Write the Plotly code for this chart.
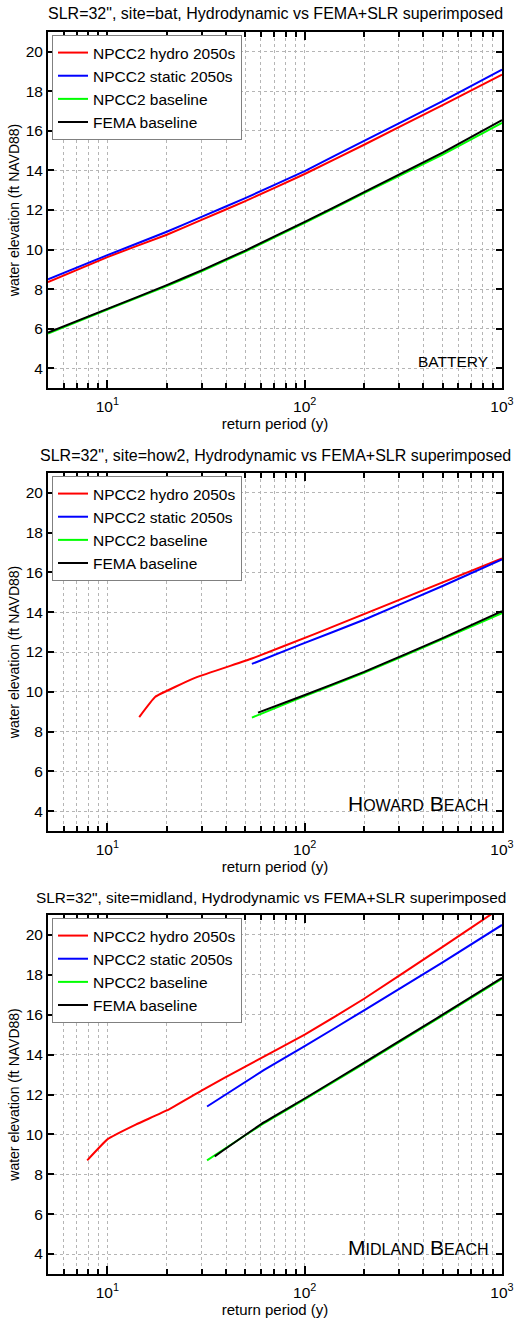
import plotly.graph_objects as go

# ---------------- data ----------------
# Panel 1: Battery
bat_hydro_x = [5, 10, 20, 30, 50, 100, 200, 500, 1000]
bat_hydro_y = [8.35, 9.62, 10.75, 11.5, 12.45, 13.82, 15.3, 17.3, 18.85]
bat_static_x = [5, 10, 20, 30, 50, 100, 200, 500, 1000]
bat_static_y = [8.5, 9.72, 10.9, 11.65, 12.6, 13.97, 15.5, 17.5, 19.1]
bat_npcc_x = [5, 10, 20, 30, 50, 100, 200, 500, 1000]
bat_npcc_y = [5.75, 6.97, 8.15, 8.9, 9.9, 11.35, 12.85, 14.8, 16.4]
bat_fema_x = [5, 10, 20, 30, 50, 100, 200, 500, 1000]
bat_fema_y = [5.8, 7.0, 8.2, 8.95, 9.95, 11.4, 12.9, 14.9, 16.55]

# Panel 2: Howard Beach
how_hydro_x = [14.5, 17.5, 28, 54, 112, 1000]
how_hydro_y = [8.73, 9.75, 10.71, 11.67, 12.9, 16.7]
how_static_x = [54, 95, 200, 500, 1000]
how_static_y = [11.4, 12.37, 13.62, 15.32, 16.65]
how_npcc_x = [54, 95, 200, 500, 1000]
how_npcc_y = [8.7, 9.7, 10.95, 12.65, 13.95]
how_fema_x = [58, 95, 200, 500, 1000]
how_fema_y = [8.95, 9.75, 11.0, 12.7, 14.05]

# Panel 3: Midland Beach
mid_hydro_x = [7.9, 10, 14, 20, 30, 50, 100, 200, 500, 1000]
mid_hydro_y = [8.7, 9.75, 10.5, 11.2, 12.2, 13.4, 15.0, 16.8, 19.4, 21.4]
mid_static_x = [32, 62, 100, 200, 500, 1000]
mid_static_y = [11.4, 13.22, 14.42, 16.22, 18.62, 20.5]
mid_npcc_x = [32, 62, 100, 200, 500, 1000]
mid_npcc_y = [8.7, 10.55, 11.75, 13.55, 15.95, 17.8]
mid_fema_x = [35, 62, 100, 200, 500, 1000]
mid_fema_y = [8.9, 10.6, 11.8, 13.6, 16.0, 17.85]

series_names = ["NPCC2 hydro 2050s", "NPCC2 static 2050s", "NPCC2 baseline", "FEMA baseline"]
series_colors = ["#ff0000", "#0000ff", "#00ff00", "#000000"]
titles = [
    "SLR=32\", site=bat, Hydrodynamic vs FEMA+SLR superimposed",
    "SLR=32\", site=how2, Hydrodynamic vs FEMA+SLR superimposed",
    "SLR=32\", site=midland, Hydrodynamic vs FEMA+SLR superimposed",
]
site_labels = [
    "BATTERY",
    "H<span style='font-size:16px'>OWARD</span> B<span style='font-size:16px'>EACH</span>",
    "M<span style='font-size:16px'>IDLAND</span> B<span style='font-size:16px'>EACH</span>",
]
y_ticks = [4, 6, 8, 10, 12, 14, 16, 18, 20]
x_ticks = [10, 100, 1000]
x_ticktext = ["10<sup>1</sup>", "10<sup>2</sup>", "10<sup>3</sup>"]

panels = [
    [(bat_hydro_x, bat_hydro_y), (bat_static_x, bat_static_y), (bat_npcc_x, bat_npcc_y), (bat_fema_x, bat_fema_y)],
    [(how_hydro_x, how_hydro_y), (how_static_x, how_static_y), (how_npcc_x, how_npcc_y), (how_fema_x, how_fema_y)],
    [(mid_hydro_x, mid_hydro_y), (mid_static_x, mid_static_y), (mid_npcc_x, mid_npcc_y), (mid_fema_x, mid_fema_y)],
]

# ---------------- layout geometry (pixels) ----------------
W, H = 515, 1322
x_left, x_right = 48, 502
panel_px = [(32, 388), (473, 831), (915, 1274)]  # (top, bottom)
title_sizes = [16, 16, 15.4]
title_centers = [275, 275, 271]

FONT = "Liberation Sans, Arial, sans-serif"

fig = go.Figure()
layout = dict(
    width=W, height=H,
    margin=dict(l=0, r=0, t=0, b=0, autoexpand=False),
    paper_bgcolor="white", plot_bgcolor="white",
    font=dict(family=FONT, size=14, color="black"),
    annotations=[],
    showlegend=True,
)

for i, (panel, (top, bot)) in enumerate(zip(panels, panel_px)):
    n = i + 1
    xa = "x" if n == 1 else f"x{n}"
    ya = "y" if n == 1 else f"y{n}"
    leg = "legend" if n == 1 else f"legend{n}"
    for (xs, ys), name, col in zip(panel, series_names, series_colors):
        fig.add_trace(go.Scatter(
            x=xs, y=ys, mode="lines", name=name,
            line=dict(color=col, width=2, shape="spline", smoothing=0.3),
            xaxis=xa, yaxis=ya, legend=leg,
        ))
    ydom = [1 - bot / H, 1 - top / H]
    xdom = [x_left / W, x_right / W]
    xkey = "xaxis" if n == 1 else f"xaxis{n}"
    ykey = "yaxis" if n == 1 else f"yaxis{n}"
    layout[xkey] = dict(
        domain=xdom, anchor=ya, type="log", range=[0.69897, 3],
        automargin=False,
        tickvals=x_ticks, ticktext=x_ticktext,
        ticks="inside", ticklen=8, tickwidth=1.5, tickcolor="black",
        ticklabelstandoff=3,
        showline=True, linecolor="black", linewidth=2, mirror="allticks",
        showgrid=True, gridcolor="#b5b5b5", griddash="dot", gridwidth=1,
        minor=dict(tickvals=[5,6,7,8,9,20,30,40,50,60,70,80,90,200,300,400,500,600,700,800,900],
                   ticks="inside", ticklen=5, tickcolor="black", tickwidth=1.5,
                   showgrid=True, gridcolor="#b5b5b5", griddash="dot", gridwidth=1),
        tickfont=dict(size=15.5),
        title=dict(text="return period (y)", font=dict(size=15), standoff=4),
        zeroline=False,
    )
    layout[ykey] = dict(
        domain=ydom, anchor=xa, range=[3, 21],
        automargin=False,
        tickvals=y_ticks,
        ticks="inside", ticklen=6, tickwidth=1.5, tickcolor="black",
        showline=True, linecolor="black", linewidth=2, mirror="allticks",
        showgrid=True, gridcolor="#b5b5b5", griddash="dot", gridwidth=1,
        tickfont=dict(size=15.5),
        title=dict(text="water elevation (ft NAVD88)", font=dict(size=14), standoff=3),
        zeroline=False,
    )
    layout[leg] = dict(
        x=52 / W, y=1 - (top + 3) / H, xanchor="left", yanchor="top",
        xref="paper", yref="paper",
        bgcolor="white", bordercolor="#808080", borderwidth=1,
        font=dict(size=15.5, family=FONT), tracegroupgap=0,
        itemwidth=30,
    )
    # title
    layout["annotations"].append(dict(
        text=titles[i], x=title_centers[i] / W, y=1 - (top - 18) / H,
        xref="paper", yref="paper", xanchor="center", yanchor="middle",
        showarrow=False, font=dict(size=title_sizes[i], family=FONT),
    ))
    # site label
    layout["annotations"].append(dict(
        text=site_labels[i], x=(x_right - 12) / W, y=1 - (bot - 27) / H,
        xref="paper", yref="paper", xanchor="right", yanchor="middle",
        showarrow=False, font=dict(size=15.5 if i == 0 else 21, family=FONT),
    ))

fig.update_layout(**layout)
fig.write_html("out.html")
